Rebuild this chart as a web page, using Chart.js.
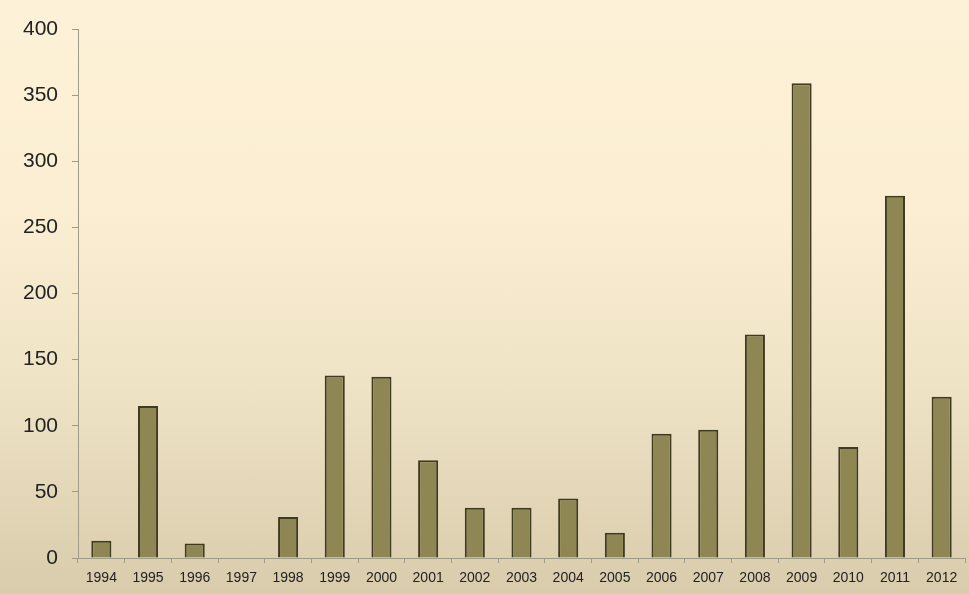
<!DOCTYPE html>
<html>
<head>
<meta charset="utf-8">
<script src="https://cdn.jsdelivr.net/npm/chart.js@4.4.1/dist/chart.umd.min.js"></script>
<style>
  html, body { margin: 0; padding: 0; width: 969px; height: 594px; overflow: hidden; }
  body { background: linear-gradient(to bottom, #fdf1d7 0%, #fbeed2 35%, #efe3c6 65%, #d9ccac 100%); }
  #wrap { position: absolute; left: 0; top: 0; width: 969px; height: 594px; }
</style>
</head>
<body>
<div id="wrap"><canvas id="c"></canvas></div>
<script>
const years = ['1994','1995','1996','1997','1998','1999','2000','2001','2002','2003','2004','2005','2006','2007','2008','2009','2010','2011','2012'];
const counts = [13, 115, 11, 0, 31, 138, 137, 74, 38, 38, 45, 19, 94, 97, 169, 359, 84, 274, 122];
const yMin = 0, yMax = 400, yStep = 50;

new Chart(document.getElementById('c'), {
  type: 'bar',
  data: {
    labels: years,
    datasets: [{
      data: counts,
      backgroundColor: '#8f8753',
      borderColor: '#3f3a22',
      borderWidth: 2,
      barPercentage: 0.43,
      categoryPercentage: 1.0
    }]
  },
  options: {
    responsive: true,
    maintainAspectRatio: false,
    animation: false,
    layout: { padding: { top: 29, right: 4, left: 0, bottom: 0 } },
    plugins: { legend: { display: false }, tooltip: { enabled: false } },
    scales: {
      x: {
        offset: true,
        grid: { display: true, drawOnChartArea: false, offset: true, tickLength: 5, color: '#a09a88' },
        border: { display: true, color: '#a09a88', width: 1 },
        ticks: { color: '#222', font: { family: 'Liberation Sans', size: 14 }, padding: 7, maxRotation: 0, autoSkip: false },
        afterFit: s => { s.height = 36; }
      },
      y: {
        min: yMin, max: yMax,
        grid: { display: true, drawOnChartArea: false, tickLength: 6, color: '#a09a88' },
        border: { display: true, color: '#a09a88', width: 1 },
        ticks: { stepSize: yStep, color: '#222', font: { family: 'Liberation Sans', size: 21 }, padding: 14 },
        afterFit: s => { s.width = 78; }
      }
    }
  }
});
</script>
</body>
</html>
